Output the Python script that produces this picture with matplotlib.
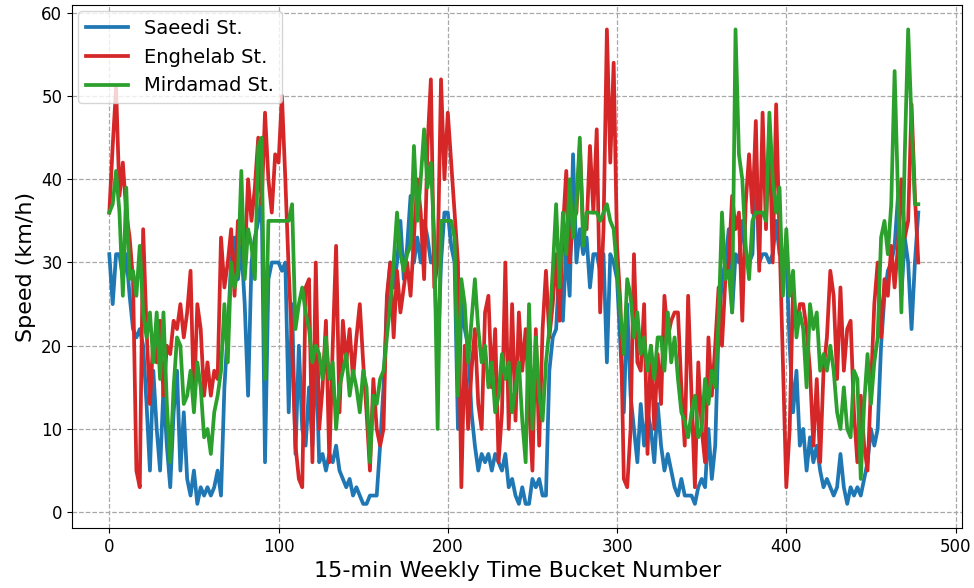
import numpy as np
import matplotlib
matplotlib.use('Agg')
import matplotlib.pyplot as plt

# time bucket numbers (every 2nd bucket)
buckets = np.arange(0, 480, 2)

saeedi = [
    31, 25, 31, 31, 28, 31, 26, 22, 21, 22, 20, 13, 5, 17, 10, 5, 15, 8, 3, 12,
    17, 5, 12, 4, 2, 5, 1, 3, 2, 3, 2, 3, 5, 2, 15, 22, 30, 33, 28, 32,
    25, 14, 30, 33, 35, 38, 6, 28, 30, 30, 30, 29, 30, 12, 25, 7, 20, 10, 8, 15,
    8, 20, 6, 7, 5, 7, 6, 8, 5, 4, 3, 4, 2, 3, 2, 1, 1, 2, 2, 2,
    8, 15, 25, 30, 27, 30, 35, 28, 32, 38, 30, 33, 30, 35, 33, 30, 30, 18, 30, 36,
    36, 32, 30, 10, 25, 22, 20, 12, 8, 5, 7, 6, 7, 5, 7, 6, 5, 7, 3, 4,
    2, 1, 3, 1, 1, 4, 3, 4, 2, 2, 17, 21, 22, 30, 23, 32, 26, 43, 30, 34,
    31, 33, 27, 31, 31, 29, 31, 18, 31, 30, 28, 20, 12, 25, 14, 10, 6, 13, 8, 12,
    10, 6, 13, 8, 5, 7, 5, 3, 2, 4, 2, 2, 2, 1, 3, 4, 3, 10, 4, 8,
    22, 28, 30, 34, 24, 31, 30, 35, 31, 30, 31, 43, 30, 31, 31, 30, 31, 35, 31, 31,
    31, 20, 12, 17, 8, 10, 5, 9, 6, 8, 5, 3, 4, 3, 2, 3, 7, 3, 1, 3,
    2, 3, 2, 4, 6, 10, 8, 10, 20, 26, 29, 30, 32, 38, 26, 33, 30, 22, 30, 36,
]

enghelab = [
    36, 44, 51, 38, 42, 36, 33, 28, 5, 3, 34, 22, 13, 21, 18, 23, 14, 20, 19, 23,
    22, 25, 21, 24, 29, 13, 25, 22, 14, 18, 14, 17, 16, 33, 27, 30, 34, 26, 35, 33,
    30, 40, 35, 39, 45, 37, 48, 40, 36, 43, 42, 50, 40, 29, 20, 8, 4, 3, 27, 28,
    6, 30, 10, 15, 23, 6, 20, 32, 12, 23, 18, 22, 16, 21, 25, 18, 12, 5, 16, 10,
    8, 10, 26, 30, 21, 29, 24, 27, 30, 26, 33, 40, 36, 28, 44, 52, 27, 30, 52, 40,
    48, 42, 36, 30, 3, 20, 10, 17, 22, 13, 10, 24, 26, 15, 22, 6, 12, 30, 10, 25,
    11, 24, 17, 22, 13, 5, 22, 8, 22, 29, 21, 25, 31, 23, 34, 41, 30, 35, 36, 44,
    34, 34, 44, 36, 46, 24, 34, 58, 42, 54, 32, 25, 4, 3, 10, 31, 18, 17, 25, 7,
    20, 10, 19, 13, 26, 21, 23, 24, 24, 15, 8, 26, 14, 3, 18, 10, 6, 21, 14, 20,
    27, 20, 28, 30, 38, 34, 36, 23, 37, 43, 36, 47, 29, 48, 34, 46, 30, 49, 33, 18,
    3, 10, 27, 22, 25, 25, 22, 17, 8, 16, 6, 17, 21, 29, 26, 16, 27, 17, 22, 23,
    12, 6, 14, 8, 5, 15, 25, 30, 21, 28, 26, 32, 27, 32, 40, 33, 35, 49, 38, 30,
]

mirdamad = [
    36, 37, 41, 36, 26, 39, 28, 29, 26, 32, 24, 21, 24, 18, 24, 16, 24, 13, 6, 15,
    21, 20, 13, 14, 17, 12, 18, 15, 9, 10, 7, 12, 14, 17, 25, 18, 30, 27, 29, 41,
    28, 34, 32, 28, 44, 45, 16, 35, 35, 35, 35, 35, 35, 35, 37, 22, 25, 27, 24, 22,
    18, 20, 19, 16, 21, 16, 18, 10, 15, 17, 19, 14, 17, 15, 12, 17, 15, 6, 14, 13,
    16, 17, 21, 25, 30, 36, 31, 29, 31, 32, 44, 35, 40, 46, 39, 42, 33, 10, 35, 35,
    35, 35, 33, 14, 28, 25, 18, 23, 28, 22, 18, 20, 15, 18, 12, 14, 19, 16, 18, 12,
    15, 18, 11, 6, 25, 10, 21, 14, 11, 18, 22, 29, 37, 27, 36, 31, 40, 33, 37, 45,
    32, 36, 36, 36, 36, 35, 36, 37, 35, 34, 29, 24, 19, 28, 26, 21, 24, 19, 21, 17,
    20, 16, 21, 21, 17, 24, 18, 21, 16, 12, 11, 9, 12, 14, 9, 10, 16, 13, 17, 15,
    23, 36, 28, 29, 24, 58, 43, 40, 32, 28, 35, 36, 36, 36, 35, 48, 40, 36, 39, 26,
    34, 26, 29, 21, 24, 22, 15, 25, 22, 24, 17, 19, 17, 20, 17, 12, 10, 15, 10, 9,
    17, 16, 4, 13, 19, 13, 18, 21, 33, 35, 31, 37, 53, 38, 24, 43, 58, 47, 37, 37,
]

series_names = ['Saeedi St.', 'Enghelab St.', 'Mirdamad St.']
series_colors = ['tab:blue', 'tab:red', 'tab:green']

fig, ax = plt.subplots(figsize=(9.74, 5.88), dpi=100)
fig.subplots_adjust(left=0.074, right=0.988, top=0.991, bottom=0.102)

for vals, name, col in zip([saeedi, enghelab, mirdamad], series_names, series_colors):
    ax.plot(buckets, vals, color=col, lw=2.7, label=name)

ax.set_xlim(-22, 504)
ax.set_ylim(-1.9, 60.9)
ax.grid(True, ls='--', color='#a8a8a8', lw=0.9)
ax.tick_params(labelsize=12)
ax.set_xlabel('15-min Weekly Time Bucket Number', fontsize=16)
ax.set_ylabel('Speed (km/h)', fontsize=16)
ax.legend(loc='upper left', fontsize=14, handlelength=2.2, borderaxespad=0.3)

fig.savefig('out.png', dpi=100)
